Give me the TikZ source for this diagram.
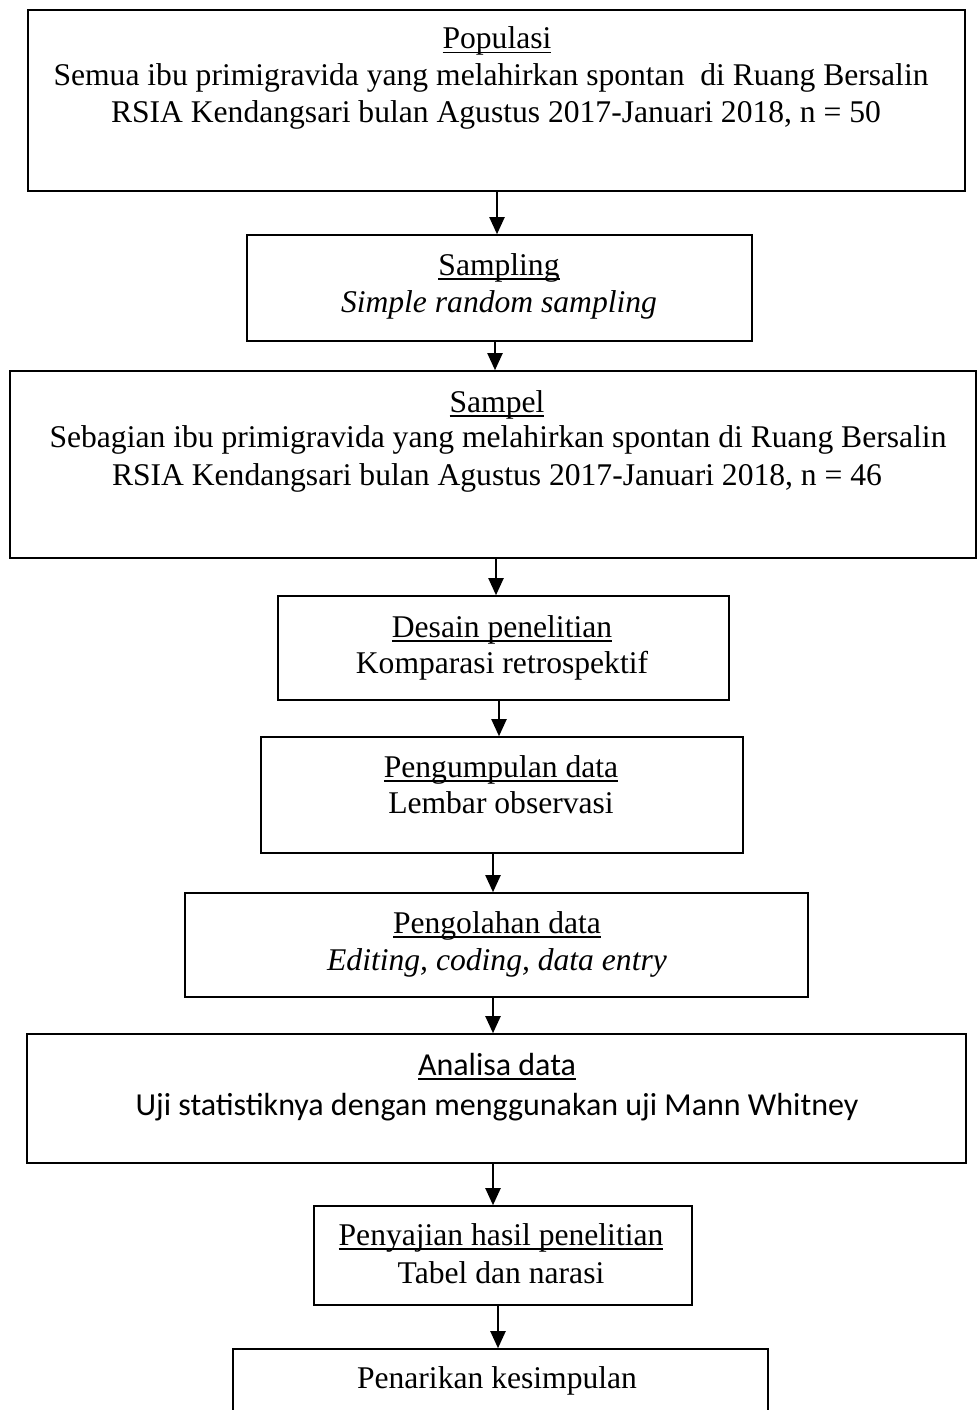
\documentclass[tikz,border=0pt]{standalone}
\usepackage{fontspec}
\setmainfont{Liberation Serif}
\newfontfamily\calibri{Carlito}
\usetikzlibrary{arrows.meta}
\newcommand\myul[1]{\setbox0=\hbox{#1}\leavevmode\rlap{\rule[-4.5pt]{\wd0}{1.4pt}}\box0}
\begin{document}
\begin{tikzpicture}[x=1pt,y=-1pt,
  box/.style={draw, line width=1.6pt, inner sep=0pt, rectangle},
  txt/.style={anchor=base, inner sep=0pt, font=\fontsize{31.6}{36}\selectfont},
  ctxt/.style={anchor=base, inner sep=0pt, font=\calibri\fontsize{32}{38}\selectfont},
  arr/.style={line width=2pt, -{Triangle[length=17pt,width=15pt]}}]
\useasboundingbox (0,0) rectangle (978,1410);
% boxes
\node[box, minimum width=937pt, minimum height=181pt] (b1) at (496.5,100.5) {};
\node[box, minimum width=505pt, minimum height=106pt] (b2) at (499.5,288) {};
\node[box, minimum width=966pt, minimum height=187pt] (b3) at (493,464.5) {};
\node[box, minimum width=451pt, minimum height=104pt] (b4) at (503.5,648) {};
\node[box, minimum width=482pt, minimum height=116pt] (b5) at (502,795) {};
\node[box, minimum width=623pt, minimum height=104pt] (b6) at (496.5,945) {};
\node[box, minimum width=939pt, minimum height=129pt] (b7) at (496.5,1098.5) {};
\node[box, minimum width=378pt, minimum height=99pt] (b8) at (503,1255.5) {};
\node[box, minimum width=535pt, minimum height=101pt] (b9) at (500.5,1399.5) {};
% texts
\node[txt] (t1a) at (497,49) {\myul{Populasi}};
\node[txt] (t1b) at (491,86) {Semua ibu primigravida yang melahirkan spontan\ \ di Ruang Bersalin};
\node[txt] (t1c) at (496,123) {RSIA Kendangsari bulan Agustus 2017-Januari 2018, n = 50};
\node[txt] (t2a) at (499,275) {\myul{Sampling}};
\node[txt] (t2b) at (499,312) {\itshape Simple random sampling};
\node[txt] (t3a) at (497,412) {\myul{Sampel}};
\node[txt] (t3b) at (498,447) {Sebagian ibu primigravida yang melahirkan spontan di Ruang Bersalin};
\node[txt] (t3c) at (497,485) {RSIA Kendangsari bulan Agustus 2017-Januari 2018, n = 46};
\node[txt] (t4a) at (502,637) {\myul{Desain penelitian}};
\node[txt] (t4b) at (502,673) {Komparasi retrospektif};
\node[txt] (t5a) at (501,777) {\myul{Pengumpulan data}};
\node[txt] (t5b) at (501,813) {Lembar observasi};
\node[txt] (t6a) at (497,933) {\myul{Pengolahan data}};
\node[txt] (t6b) at (497,970) {\itshape Editing, coding, data entry};
\node[ctxt] (t7a) at (497,1075) {\myul{Analisa data}};
\node[ctxt] (t7b) at (497,1115) {Uji statistiknya dengan menggunakan uji Mann Whitney};
\node[txt] (t8a) at (501,1245) {\myul{Penyajian hasil penelitian}};
\node[txt] (t8b) at (501,1283) {Tabel dan narasi};
\node[txt] (t9a) at (497,1388) {Penarikan kesimpulan};
% arrows
\coordinate (x1) at (497,0);
\coordinate (x2) at (495,0);
\coordinate (x3) at (496,0);
\coordinate (x4) at (499,0);
\coordinate (x5) at (493,0);
\coordinate (x6) at (493,0);
\coordinate (x7) at (493,0);
\coordinate (x8) at (498,0);
\draw[arr] (b1.south -| x1) -- (b2.north -| x1);
\draw[arr] (b2.south -| x2) -- (b3.north -| x2);
\draw[arr] (b3.south -| x3) -- (b4.north -| x3);
\draw[arr] (b4.south -| x4) -- (b5.north -| x4);
\draw[arr] (b5.south -| x5) -- (b6.north -| x5);
\draw[arr] (b6.south -| x6) -- (b7.north -| x6);
\draw[arr] (b7.south -| x7) -- (b8.north -| x7);
\draw[arr] (b8.south -| x8) -- (b9.north -| x8);
\end{tikzpicture}
\end{document}
